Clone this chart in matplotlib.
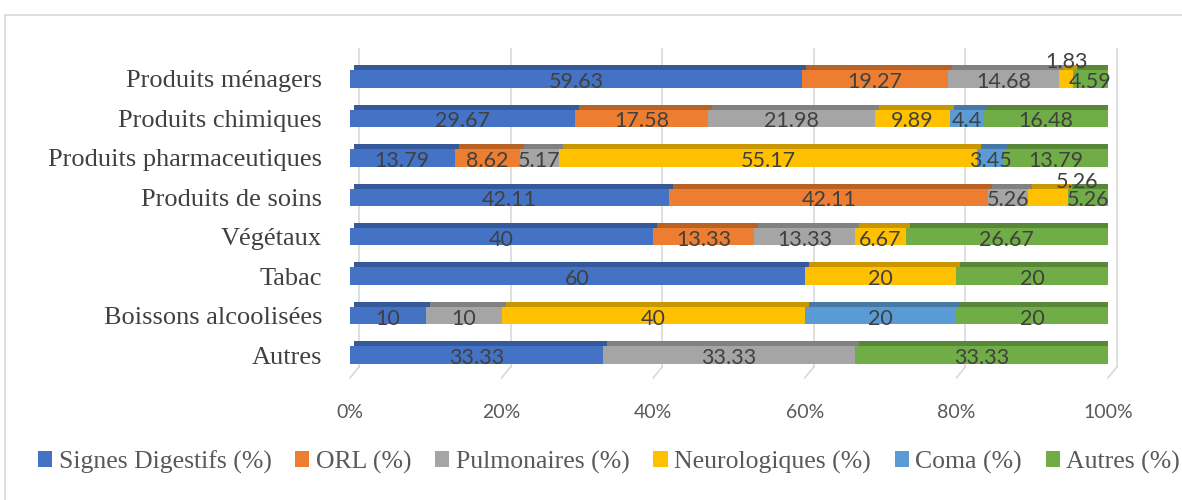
import numpy as np
import matplotlib
matplotlib.use("Agg")
import matplotlib.pyplot as plt
from matplotlib.transforms import ScaledTranslation
from matplotlib.patches import Rectangle
import matplotlib.colors as mcolors

#%% data
categories = ["Produits ménagers", "Produits chimiques", "Produits pharmaceutiques",
              "Produits de soins", "Végétaux", "Tabac", "Boissons alcoolisées", "Autres"]
series = ["Signes Digestifs (%)", "ORL (%)", "Pulmonaires (%)",
          "Neurologiques (%)", "Coma (%)", "Autres (%)"]
digestifs = [59.63, 29.67, 13.79, 42.11, 40, 60, 10, 33.33]
orl = [19.27, 17.58, 8.62, 42.11, 13.33, 0, 0, 0]
pulmonaires = [14.68, 21.98, 5.17, 5.26, 13.33, 0, 10, 33.33]
neuro = [1.83, 9.89, 55.17, 5.26, 6.67, 20, 40, 0]
coma = [0, 4.4, 3.45, 0, 0, 0, 20, 0]
autres = [4.59, 16.48, 13.79, 5.26, 26.67, 20, 20, 33.33]
xticks = [0, 20, 40, 60, 80, 100]
xticklabels = ["0%", "20%", "40%", "60%", "80%", "100%"]

colors = ["#4472C4", "#ED7D31", "#A5A5A5", "#FFC000", "#5B9BD5", "#70AD47"]

# labels that excel pushed out of the bar: (row, series) -> (dx px, dy px)
moved = {(0, 3): (0, 20), (3, 3): (29, 18)}

W, H, DPI = 1182, 500, 100
fig = plt.figure(figsize=(W / DPI, H / DPI), dpi=DPI)
ax_left, ax_right = 350, 1108
ax_top, ax_bot = 49.4, 384.6
ax = fig.add_axes([ax_left / W, 1 - ax_bot / H, (ax_right - ax_left) / W, (ax_bot - ax_top) / H])
ax.set_xlim(0, 100)
ax.set_ylim(-0.75, 7.75)
for s in ax.spines.values():
    s.set_visible(False)

px_x = 100 / (ax_right - ax_left)          # data units per pixel
px_y = 8.5 / (ax_bot - ax_top)

def shade(c, f=0.78):
    r, g, b = mcolors.to_rgb(c)
    return (r * f, g * f, b * f)

# back wall grid + floor diagonals
wall_dx = 9
for xt in xticks:
    xb = xt + wall_dx * px_x
    ax.plot([xb, xb], [-0.30, 7.75], color="#d9d9d9", lw=1.2, zorder=0, clip_on=False)
    ax.plot([xb, xt], [-0.30, -0.30 - 11 * px_y], color="#d9d9d9", lw=1.2, zorder=0, clip_on=False)

data = np.array([digestifs, orl, pulmonaires, neuro, coma, autres])
ypos = np.arange(len(categories))[::-1]
bh = 0.44
depth = ScaledTranslation(4 / DPI, 5 / DPI, fig.dpi_scale_trans)

left = np.zeros(len(categories))
for k, vals in enumerate(data):
    vals = np.array(vals, dtype=float)
    # top / side face, drawn behind the front face
    ax.barh(ypos, vals, left=left, height=bh, color=shade(colors[k]),
            transform=ax.transData + depth, zorder=1, linewidth=0)
    ax.barh(ypos, vals, left=left, height=bh, color=colors[k], zorder=2,
            linewidth=0, label=series[k])
    for i, v in enumerate(vals):
        if v <= 0:
            continue
        dx, dy = moved.get((i, k), (0, 0))
        txt = ("%g" % v)
        ax.text(left[i] + v / 2 + dx * px_x, ypos[i] - 3 * px_y + dy * px_y, txt,
                ha="center", va="center", fontsize=15.5, color="#404040",
                family="Lato", zorder=5)
    left += vals

ax.set_yticks(ypos)
ax.set_yticklabels(categories, family="Liberation Serif", fontsize=19, color="#404040")
ax.tick_params(axis="y", length=0, pad=20)
ax.set_xticks(xticks)
ax.set_xticklabels(xticklabels, family="Lato", fontsize=14, color="#595959")
ax.tick_params(axis="x", length=0, pad=14)

# legend
handles, labels = ax.get_legend_handles_labels()
fig.legend(handles, labels, loc="center", bbox_to_anchor=(0.5 + 18 / W, 1 - 462 / H), ncol=6,
           frameon=False, handlelength=0.55, handleheight=0.55, handletextpad=0.25,
           columnspacing=0.93, prop={"family": "Liberation Serif", "size": 18.5},
           labelcolor="#595959")

# chart frame
fig.patches.append(Rectangle((5 / W, -0.1), 1.2, 1.1 - 15 / H, transform=fig.transFigure,
                             fill=False, edgecolor="#d9d9d9", lw=1.2))

fig.savefig("out.png", dpi=DPI)
